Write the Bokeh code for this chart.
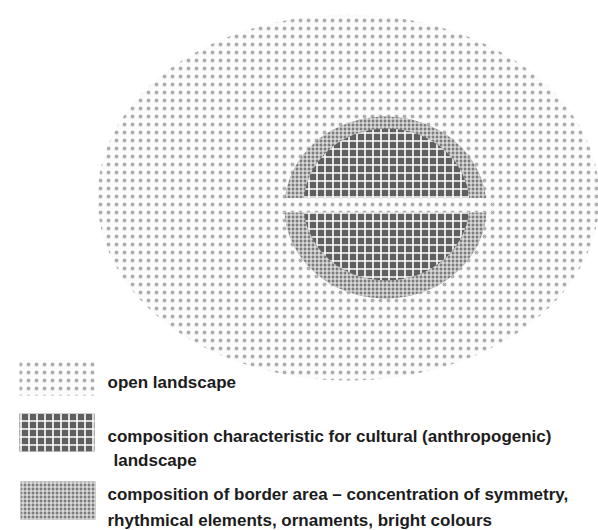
from bokeh.plotting import figure
from bokeh.models import Range1d, ColumnDataSource
from bokeh.core.properties import value
from bokeh.embed import file_html
from bokeh.resources import INLINE

# --- diagram content (page-pixel coordinates) ---
outer_center = (348, 197)
outer_size = (502, 366)

border_center = (385, 207)
border_size = (202, 182)

cultural_center = (386, 204)
cultural_size = (166, 152)

band_y = (197.5, 212.0)
band_x = (278, 492)

swatch_left = [19, 19, 20]
swatch_right = [94, 94, 95]
swatch_top = [359, 413, 481]
swatch_bottom = [395, 451, 519]
swatch_kind = ["open", "cultural", "border"]

label_x = [107, 107, 113, 107, 107]
label_y = [382, 436, 460, 494, 520]
label_text = [
    "open landscape",
    "composition characteristic for cultural (anthropogenic)",
    "landscape",
    "composition of border area \u2013 concentration of symmetry,",
    "rhythmical elements, ornaments, bright colours",
]

styles = {
    "open": dict(fill_color="#fbfbfb", hatch_pattern="dot", hatch_color="#b0b0b0",
                 hatch_scale=8, hatch_weight=1.0),
    "cultural": dict(fill_color="#5f5f5f", hatch_pattern="cross", hatch_color="#ffffff",
                     hatch_scale=8, hatch_weight=1.6),
    "border": dict(fill_color="#7d7d7d", hatch_pattern="cross", hatch_color="#f2f2f2",
                   hatch_scale=4, hatch_weight=1.1),
}

W, H = 598, 530
p = figure(width=W, height=H, output_backend="svg", toolbar_location=None,
           x_range=Range1d(0, W), y_range=Range1d(H, 0),
           min_border=0, border_fill_color="white", background_fill_color="white")
p.axis.visible = False
p.grid.visible = False
p.outline_line_color = None

# open landscape (outer ellipse)
p.ellipse(x=[outer_center[0]], y=[outer_center[1]], width=[outer_size[0]],
          height=[outer_size[1]], line_color=None, **styles["open"])
# border area
p.ellipse(x=[border_center[0]], y=[border_center[1]], width=[border_size[0]],
          height=[border_size[1]], line_color=None, **styles["border"])
# cultural landscape
p.ellipse(x=[cultural_center[0]], y=[cultural_center[1]], width=[cultural_size[0]],
          height=[cultural_size[1]], line_color=None, **styles["cultural"])
# open band cutting the centre
p.quad(left=[band_x[0]], right=[band_x[1]], top=[band_y[0]], bottom=[band_y[1]],
       line_color=None, **styles["open"])

# legend swatches
for i, k in enumerate(swatch_kind):
    p.quad(left=[swatch_left[i]], right=[swatch_right[i]], top=[swatch_top[i]],
           bottom=[swatch_bottom[i]], line_color=None, **styles[k])

src = ColumnDataSource(dict(x=label_x, y=label_y, t=label_text))
p.text(x="x", y="y", text="t", source=src, text_font=value("Liberation Sans"),
       text_font_style="bold", text_font_size="17px", text_color="#1c1c1c",
       text_baseline="middle", text_align="left")

open("out.html", "w").write(file_html(p, INLINE))
